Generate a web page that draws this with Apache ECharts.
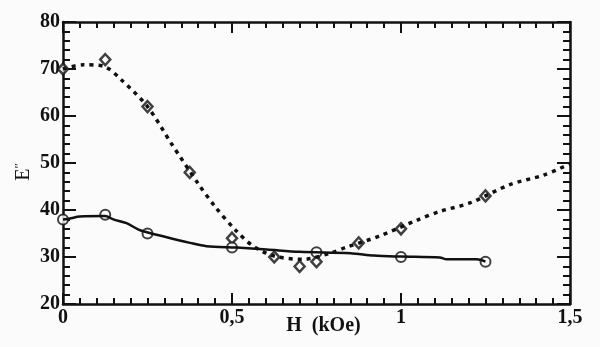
<!DOCTYPE html>
<html><head><meta charset="utf-8">
<script src="https://cdn.jsdelivr.net/npm/echarts@6/dist/echarts.min.js"></script>
<style>html,body{margin:0;padding:0;background:#fbfbfb}#c{width:600px;height:347px}</style>
</head><body><div id="c"></div>
<script>
// Measured points (diamonds, dashed curve)
const hDiamond = [0, 0.125, 0.25, 0.375, 0.5, 0.625, 0.7, 0.75, 0.875, 1.0, 1.25];
const eDiamond = [70, 72, 62, 48, 34, 30, 28, 29, 33, 36, 43];
// Measured points (circles, solid curve)
const hCircle = [0, 0.125, 0.25, 0.5, 0.75, 1.0, 1.25];
const eCircle = [38, 39, 35, 32, 31, 30, 29];
// Dashed guide curve as drawn
const hDash = [0, 0.06, 0.12, 0.174, 0.25, 0.321, 0.4, 0.45, 0.512, 0.563, 0.625, 0.71, 0.79, 0.839, 0.938, 1.046, 1.115, 1.204, 1.322, 1.421, 1.5];
const eDash = [70, 70.9, 70.6, 67.6, 62, 54.1, 45.6, 40.7, 35.6, 32.3, 30.2, 29.5, 30.8, 32.1, 34.5, 37.8, 39.7, 41.5, 45.4, 47.4, 49.8];
// Solid guide curve as drawn
const hSolid = [0, 0.02, 0.05, 0.125, 0.149, 0.188, 0.228, 0.307, 0.376, 0.425, 0.514, 0.603, 0.7, 0.85, 0.92, 1.0, 1.115, 1.135, 1.224, 1.25];
const eSolid = [38, 38.2, 38.6, 38.7, 38.0, 37.2, 35.7, 34.2, 33.0, 32.3, 32.0, 31.6, 31.1, 30.8, 30.3, 30.1, 29.9, 29.5, 29.5, 29];
// Tick labels
const xTickLabels = {0: '0', 0.5: '0,5', 1: '1', 1.5: '1,5'};

const zip = (a, b) => a.map((v, i) => [v, b[i]]);
const ink = '#111111';
const font = 'Liberation Serif';

const chart = echarts.init(document.getElementById('c'), null, {renderer: 'canvas'});
const baseX = {
  type: 'value', min: 0, max: 1.5, interval: 0.5,
  axisLine: {show: true, onZero: false, lineStyle: {color: ink, width: 2.5}},
  axisTick: {show: true, inside: true, length: 11, lineStyle: {color: ink, width: 2}},
  minorTick: {show: true, splitNumber: 10, length: 6, lineStyle: {color: ink, width: 2}},
  splitLine: {show: false}, minorSplitLine: {show: false}
};
const baseY = {
  type: 'value', min: 20, max: 80, interval: 10,
  axisLine: {show: true, onZero: false, lineStyle: {color: ink, width: 2.5}},
  axisTick: {show: true, inside: true, length: 13, lineStyle: {color: ink, width: 2}},
  minorTick: {show: true, splitNumber: 5, length: 7, lineStyle: {color: ink, width: 2}},
  splitLine: {show: false}, minorSplitLine: {show: false}
};
chart.setOption({
  backgroundColor: '#fbfbfb',
  animation: false,
  grid: {left: 63, right: 30, top: 22, bottom: 43, containLabel: false, outerBoundsMode: 'none'},
  xAxis: [
    Object.assign({}, baseX, {
      position: 'bottom',
      axisLabel: {color: ink, fontFamily: font, fontSize: 20, fontWeight: 'bold', margin: 4,
        formatter: v => xTickLabels[v] !== undefined ? xTickLabels[v] : ''},
      name: 'H  (kOe)', nameLocation: 'middle', nameGap: 12, nameMoveOverlap: false,
      nameTextStyle: {color: ink, fontFamily: font, fontSize: 20, fontWeight: 'bold', padding: [0, 0, 0, 14], verticalAlign: 'top'}
    }),
    Object.assign({}, baseX, {position: 'top', axisLabel: {show: false}})
  ],
  yAxis: [
    Object.assign({}, baseY, {
      position: 'left',
      axisLabel: {color: ink, fontFamily: font, fontSize: 20, fontWeight: 'bold', margin: 3},
      name: '{e|E}{s|\u2033}', nameLocation: 'middle', nameGap: 29, nameRotate: 90, nameMoveOverlap: false,
      nameTextStyle: {padding: [0, 18, 0, 0], rich: {
        e: {color: ink, fontFamily: font, fontSize: 20},
        s: {color: ink, fontFamily: font, fontSize: 13, verticalAlign: 'top', padding: [0, 0, 8, 0]}
      }}
    }),
    Object.assign({}, baseY, {position: 'right', axisLabel: {show: false}})
  ],
  series: [
    {type: 'line', data: zip(hDash, eDash), smooth: 0.3, showSymbol: false, silent: true,
     lineStyle: {color: ink, width: 3.5, type: [4, 5]}},
    {type: 'line', data: zip(hSolid, eSolid), smooth: 0.3, showSymbol: false, silent: true,
     lineStyle: {color: ink, width: 2.5}},
    {type: 'scatter', data: zip(hDiamond, eDiamond), symbol: 'diamond', symbolSize: [10, 11],
     itemStyle: {color: '#ffffff', borderColor: ink, borderWidth: 2.5}},
    {type: 'scatter', data: zip(hCircle, eCircle), symbol: 'circle', symbolSize: 10,
     itemStyle: {color: '#ffffff', borderColor: ink, borderWidth: 2}}
  ]
});
</script></body></html>
